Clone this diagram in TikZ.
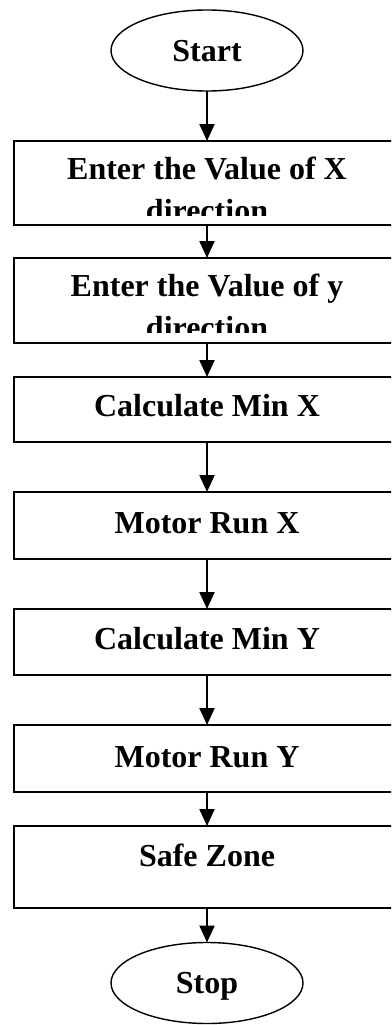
\documentclass[tikz,border=0pt]{standalone}
\usepackage{fontspec}
\setmainfont{Liberation Serif}
\usetikzlibrary{arrows.meta,shapes.geometric}
\begin{document}
\begin{tikzpicture}[x=1pt,y=-1pt,
  stepbox/.style={draw, line width=2.2pt, rectangle, minimum width=386pt,
    inner sep=0pt, outer sep=0pt},
  term/.style={draw, line width=1.4pt, ellipse, minimum width=192pt,
    minimum height=81pt, inner sep=0pt, outer sep=0pt, text depth=0pt,
    font=\fontsize{32}{36}\selectfont\bfseries},
  lbl/.style={anchor=base, inner sep=0pt, font=\fontsize{32}{36}\selectfont\bfseries},
  flow/.style={line width=2.2pt, -{Triangle[width=15pt,length=17pt]}}]
\useasboundingbox (0,0) rectangle (391,1025);
\clip (0,0) rectangle (391,1025);

% terminals
\node[term] (start) at (207,50.5) {Start};
\node[term] (stop)  at (207,983)  {Stop};

% process boxes (right side runs past the page edge)
\node[stepbox, minimum height=84pt] (b1) at (207,183)   {};
\node[stepbox, minimum height=85pt] (b2) at (207,300.5) {};
\node[stepbox, minimum height=65pt] (b3) at (207,409.5) {};
\node[stepbox, minimum height=67pt] (b4) at (207,525.5) {};
\node[stepbox, minimum height=66pt] (b5) at (207,642)   {};
\node[stepbox, minimum height=67pt] (b6) at (207,758.5) {};
\node[stepbox, minimum height=82pt] (b7) at (207,867)   {};

% two-line labels, cut off by the text frame
\begin{scope}
  \clip (14,141) rectangle (400,215);
  \node[lbl] (t1a) at ([yshift=-38pt]b1.north) {Enter the Value of X};
  \node[lbl] (t1b) at ([yshift=-80pt]b1.north) {direction};
\end{scope}
\begin{scope}
  \clip (14,258) rectangle (400,332);
  \node[lbl] (t2a) at ([yshift=-38pt]b2.north) {Enter the Value of y};
  \node[lbl] (t2b) at ([yshift=-80pt]b2.north) {direction};
\end{scope}

% single-line labels
\node[lbl] (t3) at ([yshift=-39pt]b3.north) {Calculate Min X};
\node[lbl] (t4) at ([yshift=-41pt]b4.north) {Motor Run X};
\node[lbl] (t5) at ([yshift=-40pt]b5.north) {Calculate Min Y};
\node[lbl] (t6) at ([yshift=-42pt]b6.north) {Motor Run Y};
\node[lbl] (t7) at ([yshift=-40pt]b7.north) {Safe Zone};

% connectors
\draw[flow] (start.south) -- (b1.north);
\draw[flow] (b1.south) -- (b2.north);
\draw[flow] (b2.south) -- (b3.north);
\draw[flow] (b3.south) -- (b4.north);
\draw[flow] (b4.south) -- (b5.north);
\draw[flow] (b5.south) -- (b6.north);
\draw[flow] (b6.south) -- (b7.north);
\draw[flow] (b7.south) -- (stop.north);
\end{tikzpicture}
\end{document}
